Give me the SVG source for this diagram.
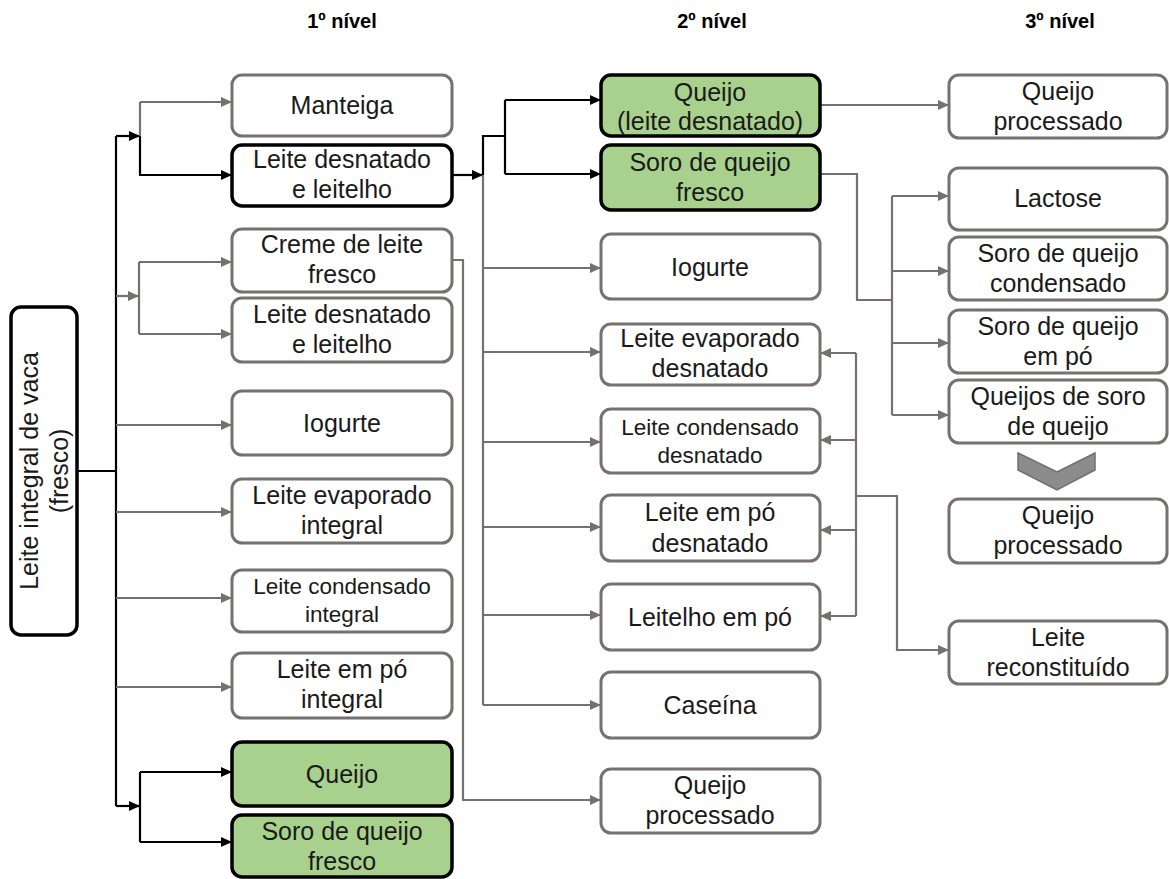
<svg xmlns="http://www.w3.org/2000/svg" width="1169" height="879" viewBox="0 0 1169 879">
<style>
  .g rect { fill: #ffffff; stroke: #767171; stroke-width: 3; }
  .k rect { fill: #ffffff; stroke: #000000; stroke-width: 3.5; }
  .gr rect { fill: #a9d18e; stroke: #000000; stroke-width: 3.5; }
  text { font-family: "Liberation Sans", Arial, sans-serif; font-size: 25px; fill: #1a1a1a; text-anchor: middle; }
  text.s { font-size: 22.5px; }
  text.h { font-size: 20px; font-weight: bold; fill: #000; }
  .cg { fill: none; stroke: #767171; stroke-width: 2.2; }
  .ck { fill: none; stroke: #000000; stroke-width: 2.2; }
  .cga { fill: none; stroke: #767171; stroke-width: 2.2; marker-end: url(#ag); }
  .cka { fill: none; stroke: #000000; stroke-width: 2.2; marker-end: url(#ak); }
</style>
<defs>
  <marker id="ag" markerUnits="userSpaceOnUse" markerWidth="12" markerHeight="10" refX="11" refY="5" orient="auto">
    <path d="M0,0 L11,5 L0,10 z" fill="#767171"/>
  </marker>
  <marker id="ak" markerUnits="userSpaceOnUse" markerWidth="12" markerHeight="10" refX="11" refY="5" orient="auto">
    <path d="M0,0 L11,5 L0,10 z" fill="#000000"/>
  </marker>
</defs>
<rect width="1169" height="879" fill="#ffffff"/>

<g id="headers">
  <text class="h" x="342" y="28">1º nível</text>
  <text class="h" x="712" y="28">2º nível</text>
  <text class="h" x="1060" y="28">3º nível</text>
</g>

<g id="connectors">
  <!-- root -->
  <path class="ck" d="M77,471 H116"/>
  <path class="ck" d="M116,136 V806"/>
  <path class="cka" d="M116,136 H140"/>
  <path class="cg" d="M140,136 V102"/>
  <path class="cga" d="M140,102 H232"/>
  <path class="cka" d="M140,136 V175 H232"/>
  <path class="cga" d="M116,296 H139"/>
  <path class="cg" d="M139,262 V334"/>
  <path class="cga" d="M139,262 H232"/>
  <path class="cga" d="M139,334 H232"/>
  <path class="cga" d="M116,425 H232"/>
  <path class="cga" d="M116,512 H232"/>
  <path class="cga" d="M116,598 H232"/>
  <path class="cga" d="M116,687 H232"/>
  <path class="cka" d="M116,806 H140"/>
  <path class="ck" d="M140,772 V842"/>
  <path class="cka" d="M140,772 H232"/>
  <path class="cka" d="M140,842 H232"/>
  <!-- level 1 to 2 -->
  <path class="cka" d="M452,175 H483"/>
  <path class="ck" d="M483,175 V136 H505"/>
  <path class="ck" d="M505,100 V174"/>
  <path class="cka" d="M505,100 H601"/>
  <path class="cka" d="M505,174 H601"/>
  <path class="cg" d="M483,175 V705"/>
  <path class="cga" d="M483,268 H601"/>
  <path class="cga" d="M483,352 H601"/>
  <path class="cga" d="M483,442 H601"/>
  <path class="cga" d="M483,527 H601"/>
  <path class="cga" d="M483,615 H601"/>
  <path class="cga" d="M483,705 H601"/>
  <path class="cga" d="M452,260 H463 V800 H601"/>
  <!-- level 2 to 3 -->
  <path class="cga" d="M820,105 H949"/>
  <path class="cg" d="M820,174 H857 V300 H892"/>
  <path class="cg" d="M892,196 V415"/>
  <path class="cga" d="M892,196 H949"/>
  <path class="cga" d="M892,271 H949"/>
  <path class="cga" d="M892,343 H949"/>
  <path class="cga" d="M892,415 H949"/>
  <path class="cg" d="M856,353 V616"/>
  <path class="cga" d="M856,353 H820"/>
  <path class="cga" d="M856,440 H820"/>
  <path class="cga" d="M856,530 H820"/>
  <path class="cga" d="M856,616 H820"/>
  <path class="cga" d="M856,496 H897 V650 H949"/>
</g>

<g id="root" class="k">
  <rect x="11" y="307" width="66" height="328" rx="10"/>
  <text transform="translate(44,471) rotate(-90)"><tspan x="0" y="-6">Leite integral de vaca</tspan><tspan x="0" y="24">(fresco)</tspan></text>
</g>

<!-- level 1 -->
<g id="n1-manteiga" class="g"><rect x="232" y="75" width="220" height="61" rx="10"/><text x="342" y="114">Manteiga</text></g>
<g id="n1-desnatado-a" class="k"><rect x="232" y="145" width="220" height="61" rx="10"/><text x="342"><tspan x="342" y="168">Leite desnatado</tspan><tspan x="342" y="198">e leitelho</tspan></text></g>
<g id="n1-creme" class="g"><rect x="232" y="229" width="220" height="63" rx="10"/><text><tspan x="342" y="253">Creme de leite</tspan><tspan x="342" y="283">fresco</tspan></text></g>
<g id="n1-desnatado-b" class="g"><rect x="232" y="298" width="220" height="64" rx="10"/><text><tspan x="342" y="323">Leite desnatado</tspan><tspan x="342" y="353">e leitelho</tspan></text></g>
<g id="n1-iogurte" class="g"><rect x="232" y="391" width="220" height="64" rx="10"/><text x="342" y="432">Iogurte</text></g>
<g id="n1-evaporado" class="g"><rect x="232" y="479" width="220" height="64" rx="10"/><text><tspan x="342" y="504">Leite evaporado</tspan><tspan x="342" y="534">integral</tspan></text></g>
<g id="n1-condensado" class="g"><rect x="232" y="570" width="220" height="62" rx="10"/><text class="s"><tspan x="342" y="594">Leite condensado</tspan><tspan x="342" y="622">integral</tspan></text></g>
<g id="n1-po" class="g"><rect x="232" y="653" width="220" height="65" rx="10"/><text><tspan x="342" y="678">Leite em pó</tspan><tspan x="342" y="708">integral</tspan></text></g>
<g id="n1-queijo" class="gr"><rect x="232" y="742" width="220" height="64" rx="10"/><text x="342" y="783">Queijo</text></g>
<g id="n1-soro" class="gr"><rect x="232" y="815" width="220" height="62" rx="10"/><text><tspan x="342" y="840">Soro de queijo</tspan><tspan x="342" y="870">fresco</tspan></text></g>

<!-- level 2 -->
<g id="n2-queijo" class="gr"><rect x="601" y="75" width="219" height="61" rx="10"/><text><tspan x="710" y="101">Queijo</tspan><tspan x="710" y="130">(leite desnatado)</tspan></text></g>
<g id="n2-soro" class="gr"><rect x="601" y="145" width="219" height="65" rx="10"/><text><tspan x="710" y="171">Soro de queijo</tspan><tspan x="710" y="201">fresco</tspan></text></g>
<g id="n2-iogurte" class="g"><rect x="601" y="234" width="219" height="65" rx="10"/><text x="710" y="276">Iogurte</text></g>
<g id="n2-evaporado" class="g"><rect x="601" y="324" width="219" height="61" rx="10"/><text><tspan x="710" y="347">Leite evaporado</tspan><tspan x="710" y="377">desnatado</tspan></text></g>
<g id="n2-condensado" class="g"><rect x="601" y="409" width="219" height="64" rx="10"/><text class="s"><tspan x="710" y="435">Leite condensado</tspan><tspan x="710" y="463">desnatado</tspan></text></g>
<g id="n2-po" class="g"><rect x="601" y="495" width="219" height="66" rx="10"/><text><tspan x="710" y="521">Leite em pó</tspan><tspan x="710" y="552">desnatado</tspan></text></g>
<g id="n2-leitelho" class="g"><rect x="601" y="584" width="219" height="66" rx="10"/><text x="710" y="626">Leitelho em pó</text></g>
<g id="n2-caseina" class="g"><rect x="601" y="672" width="219" height="66" rx="10"/><text x="710" y="714">Caseína</text></g>
<g id="n2-processado" class="g"><rect x="601" y="769" width="219" height="64" rx="10"/><text><tspan x="710" y="794">Queijo</tspan><tspan x="710" y="824">processado</tspan></text></g>

<!-- level 3 -->
<g id="n3-processado-a" class="g"><rect x="949" y="75" width="218" height="63" rx="10"/><text><tspan x="1058" y="100">Queijo</tspan><tspan x="1058" y="130">processado</tspan></text></g>
<g id="n3-lactose" class="g"><rect x="949" y="168" width="218" height="62" rx="10"/><text x="1058" y="207">Lactose</text></g>
<g id="n3-condensado" class="g"><rect x="949" y="237" width="218" height="63" rx="10"/><text><tspan x="1058" y="262">Soro de queijo</tspan><tspan x="1058" y="292">condensado</tspan></text></g>
<g id="n3-po" class="g"><rect x="949" y="310" width="218" height="63" rx="10"/><text><tspan x="1058" y="335">Soro de queijo</tspan><tspan x="1058" y="365">em pó</tspan></text></g>
<g id="n3-soro-queijos" class="g"><rect x="949" y="380" width="218" height="63" rx="10"/><text><tspan x="1058" y="405">Queijos de soro</tspan><tspan x="1058" y="435">de queijo</tspan></text></g>
<g id="chevron"><polygon points="1018,453 1057,472 1095,453 1095,470 1057,490 1018,470" fill="#8c8c8c" stroke="#6f6f6f" stroke-width="1.5"/></g>
<g id="n3-processado-b" class="g"><rect x="949" y="499" width="218" height="64" rx="10"/><text><tspan x="1058" y="524">Queijo</tspan><tspan x="1058" y="554">processado</tspan></text></g>
<g id="n3-reconstituido" class="g"><rect x="949" y="621" width="218" height="63" rx="10"/><text><tspan x="1058" y="646">Leite</tspan><tspan x="1058" y="676">reconstituído</tspan></text></g>
</svg>
